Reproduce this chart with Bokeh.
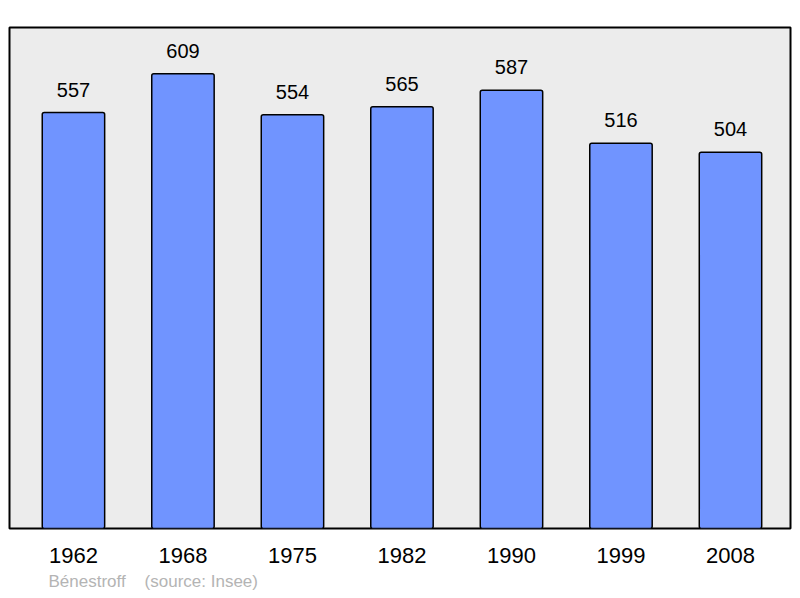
from bokeh.plotting import figure
from bokeh.models import Range1d, FixedTicker, Title, ColumnDataSource
from bokeh.core.properties import value
from bokeh.embed import file_html
from bokeh.resources import INLINE

years = ["1962", "1968", "1975", "1982", "1990", "1999", "2008"]
population = [557, 609, 554, 565, 587, 516, 504]
footer = "Bénestroff\u00a0\u00a0\u00a0\u00a0(source: Insee)"

idx = list(range(len(years)))
src = ColumnDataSource(dict(x=idx, top=population, label=[str(v) for v in population]))

p = figure(width=800, height=598, output_backend="svg", toolbar_location=None,
           x_range=Range1d(-0.584, 6.548), y_range=Range1d(0, 671),
           min_border_left=9, min_border_right=10, min_border_top=27, min_border_bottom=70)

p.background_fill_color = "#ececec"
p.border_fill_color = "white"
p.outline_line_color = "black"
p.outline_line_width = 2
p.xgrid.visible = False
p.ygrid.visible = False
p.yaxis.visible = False

p.vbar(x="x", top="top", width=0.57, bottom=0, source=src,
       fill_color="#7094ff", line_color="black", line_width=1.5, border_radius=2)
p.text(x="x", y="top", text="label", source=src, y_offset=-16,
       text_align="center", text_baseline="bottom",
       text_font_size="20px", text_font=value("Liberation Sans"), text_color="black")

ax = p.xaxis[0]
ax.ticker = FixedTicker(ticks=idx)
ax.major_label_overrides = {i: y for i, y in zip(idx, years)}
ax.axis_line_color = None
ax.major_tick_line_color = None
ax.minor_tick_line_color = None
ax.major_label_text_font = "Liberation Sans"
ax.major_label_text_font_size = "22px"
ax.major_label_text_color = "black"
ax.major_label_standoff = 13

t = Title(text=footer, align="left", text_font="Liberation Sans", text_font_size="17px",
          text_font_style="normal", text_color="#b4b4b4", offset=39, standoff=9)
p.add_layout(t, "below")

open("out.html", "w").write(file_html(p, INLINE))
